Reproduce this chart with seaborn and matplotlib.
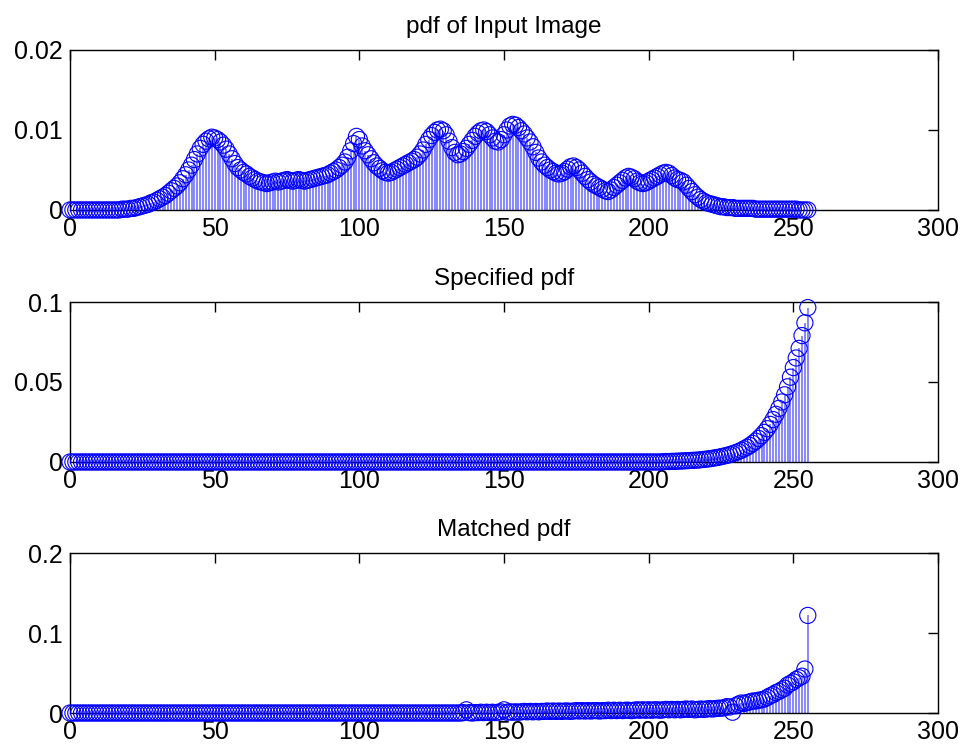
import numpy as np
import pandas as pd
import matplotlib
matplotlib.use("Agg")
import matplotlib.pyplot as plt
import seaborn as sns

# Grey levels of an 8-bit image
levels = np.arange(256)

# Histogram of the input image (units of 1e-4)
input_pdf_e4 = [
    0, 0, 0, 0, 0, 0, 0, 0, 0, 0,
    0, 0, 0, 0, 0, 0, 0, 0, 1, 1,
    1, 2, 2, 3, 4, 5, 6, 7, 9, 10,
    12, 14, 16, 18, 21, 24, 27, 30, 34, 39,
    44, 50, 56, 63, 70, 77, 82, 86, 89, 91,
    90, 88, 85, 81, 76, 70, 64, 58, 53, 50,
    47, 45, 42, 40, 38, 36, 35, 34, 33, 34,
    35, 36, 35, 36, 37, 38, 37, 36, 37, 38,
    37, 36, 37, 38, 39, 40, 41, 42, 43, 44,
    46, 48, 50, 53, 56, 60, 66, 74, 83, 92,
    88, 80, 74, 69, 64, 59, 55, 52, 49, 47,
    46, 47, 49, 51, 53, 55, 57, 59, 61, 63,
    66, 70, 75, 82, 88, 93, 97, 100, 101, 99,
    94, 86, 78, 72, 69, 70, 73, 77, 82, 87,
    92, 96, 99, 100, 98, 94, 90, 86, 85, 88,
    94, 100, 105, 107, 106, 103, 99, 95, 90, 85,
    79, 72, 65, 60, 56, 53, 50, 48, 46, 45,
    46, 48, 51, 54, 55, 53, 50, 46, 42, 38,
    35, 32, 30, 28, 26, 24, 23, 25, 28, 31,
    34, 37, 40, 42, 41, 39, 36, 34, 33, 34,
    36, 38, 40, 42, 44, 46, 47, 46, 43, 40,
    38, 37, 35, 31, 27, 23, 19, 16, 13, 11,
    9, 8, 7, 6, 5, 4, 4, 3, 3, 3,
    2, 2, 2, 2, 2, 2, 2, 1, 1, 1,
    1, 1, 1, 1, 1, 1, 1, 1, 1, 1,
    1, 1, 0, 0, 0, 0,
]

# Target histogram (units of 1e-4)
specified_pdf_e4 = [0] * 205 + [
    2, 3, 3, 4, 4,
    5, 6, 7, 8, 9, 10, 11, 12, 14, 16,
    18, 20, 23, 26, 29, 33, 37, 41, 46, 52,
    58, 65, 73, 82, 92, 103, 116, 130, 147, 165,
    185, 208, 235, 265, 298, 335, 375, 420, 470, 530,
    590, 650, 710, 790, 870, 965,
]

# Histogram after matching (units of 1e-4)
matched_pdf_e4 = [0] * 136 + [
    5, 40, 5, 0, 5,
    5, 10, 5, 10, 5, 10, 5, 10, 15,
    40, 10, 15, 10, 15, 10, 15, 20, 15, 20,
    15, 20, 15, 20, 20, 25, 20, 25, 20, 25,
    20, 25, 25, 20, 25, 30, 25, 30, 25, 30,
    25, 30, 30, 25, 30, 30, 35, 30, 35, 30,
    35, 30, 35, 35, 30, 35, 40, 35, 40, 35,
    40, 35, 40, 40, 35, 40, 45, 40, 45, 40,
    45, 40, 45, 50, 45, 50,
    40, 45, 50, 45, 50, 55, 50, 55, 60, 60, 65, 80, 75, 10,
    90, 110, 125, 120, 130, 140, 150, 150, 160, 165,
    175, 195, 215, 230, 255, 270, 290, 310, 350, 370,
    390, 420, 440, 460, 550, 1220,
]

titles = ["pdf of Input Image", "Specified pdf", "Matched pdf"]
y_limits = [0.02, 0.1, 0.2]
y_ticks = [[0, 0.01, 0.02], [0, 0.05, 0.1], [0, 0.1, 0.2]]
y_ticklabels = [["0", "0.01", "0.02"], ["0", "0.05", "0.1"], ["0", "0.1", "0.2"]]
x_ticks = [0, 50, 100, 150, 200, 250, 300]

series = [input_pdf_e4, specified_pdf_e4, matched_pdf_e4]

sns.set_style("white")
plt.rcParams["font.family"] = ["Liberation Sans", "DejaVu Sans"]
plt.rcParams["text.color"] = "black"

fig = plt.figure(figsize=(9.67, 7.55), dpi=100)
fig.patch.set_facecolor("white")

left, width, height = 0.0724, 0.8976, 0.2119
bottoms = [0.7219, 0.3881, 0.0556]

for k in range(3):
    ax = fig.add_axes([left, bottoms[k], width, height])
    df = pd.DataFrame({"level": levels, "p": np.array(series[k]) / 10000.0})

    # stems
    ax.vlines(df["level"], 0, df["p"], colors=(0.45, 0.45, 1.0),
              linewidth=1.2, zorder=2)
    # hollow circle heads
    sns.scatterplot(data=df, x="level", y="p", ax=ax, marker="o", s=135,
                    facecolor="none", edgecolor="blue", linewidth=0.8,
                    zorder=3, clip_on=False, legend=False)

    ax.set_xlim(0, 300)
    ax.set_ylim(0, y_limits[k])
    ax.set_xticks(x_ticks)
    ax.set_xticklabels([str(t) for t in x_ticks])
    ax.set_yticks(y_ticks[k])
    ax.set_yticklabels(y_ticklabels[k])
    ax.set_xlabel("")
    ax.set_ylabel("")
    ax.set_title(titles[k], fontsize=17.5, pad=12, color="black")

    ax.tick_params(direction="in", top=True, right=True, length=7,
                   width=1, labelsize=18, colors="black", pad=5)
    for side in ["left", "right", "top", "bottom"]:
        ax.spines[side].set_visible(True)
        ax.spines[side].set_color("black")
        ax.spines[side].set_linewidth(1.0)

fig.savefig("out.png", dpi=100, facecolor="white")
